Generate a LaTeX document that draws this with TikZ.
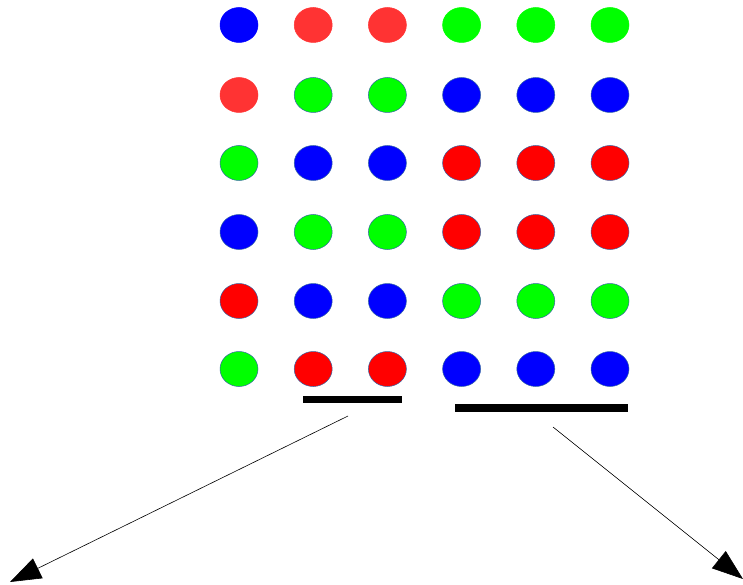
\documentclass[tikz,border=0pt]{standalone}
\usepackage{xcolor}
\usepackage{tikz}
\usetikzlibrary{arrows.meta,positioning,shapes.geometric}
\definecolor{pxBlue}{RGB}{0,0,255}
\definecolor{pxGreen}{RGB}{0,255,0}
\definecolor{pxRed}{RGB}{255,0,0}
\definecolor{pxPink}{RGB}{255,51,51}
\definecolor{pxEdge}{RGB}{52,101,164}
\tikzset{
  pixdot/.style={ellipse, minimum width=38pt, minimum height=35pt, inner sep=0pt, draw=pxEdge, line width=0.5pt},
  bar/.style={fill=black, draw=none, inner sep=0pt},
  pointer/.style={black, line width=0.6pt, -{Triangle[length=31pt, width=22pt]}}
}

\begin{document}
\begin{tikzpicture}[x=1pt, y=-1pt]
\useasboundingbox (0,0) rectangle (743,585);

% dot grid, row by row
\foreach \c [count=\i] in {pxBlue,pxPink,pxPink,pxGreen,pxGreen,pxGreen}
  \node[pixdot, fill=\c, draw=\c] (d1\i) at ({239+74.2*(\i-1)},25) {};
\node[pixdot, fill=pxPink, draw=pxPink] (d21) at (239,95) {};
\foreach \c [count=\i from 2] in {pxGreen,pxGreen,pxBlue,pxBlue,pxBlue}
  \node[pixdot, fill=\c] (d2\i) at ({239+74.2*(\i-1)},95) {};
\foreach \c [count=\i] in {pxGreen,pxBlue,pxBlue,pxRed,pxRed,pxRed}
  \node[pixdot, fill=\c] (d3\i) at ({239+74.2*(\i-1)},163) {};
\foreach \c [count=\i] in {pxBlue,pxGreen,pxGreen,pxRed,pxRed,pxRed}
  \node[pixdot, fill=\c] (d4\i) at ({239+74.2*(\i-1)},232) {};
\foreach \c [count=\i] in {pxRed,pxBlue,pxBlue,pxGreen,pxGreen,pxGreen}
  \node[pixdot, fill=\c] (d5\i) at ({239+74.2*(\i-1)},301) {};
\foreach \c [count=\i] in {pxGreen,pxRed,pxRed,pxBlue,pxBlue,pxBlue}
  \node[pixdot, fill=\c] (d6\i) at ({239+74.2*(\i-1)},369) {};

% bars under the bottom row
\node[bar, minimum width=99pt, minimum height=7pt] (barL) at (352.5,399.5) {};
\node[bar, minimum width=173pt, minimum height=8pt] (barR) at (541.5,407.5) {};

\coordinate (fromL) at (348,416);
\coordinate (toL) at (10,582);
\coordinate (fromR) at (553,427);
\coordinate (toR) at (743,579);

\draw[pointer] (fromL) -- (toL);
\draw[pointer] (fromR) -- (toR);
\end{tikzpicture}
\end{document}
